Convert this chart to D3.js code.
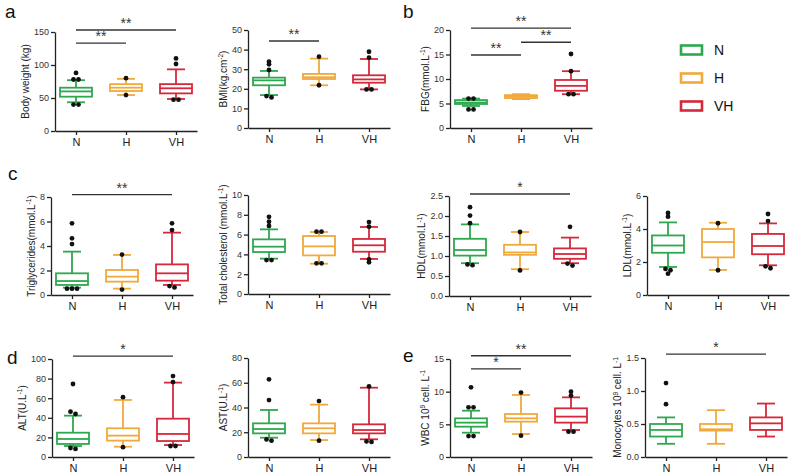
<!DOCTYPE html>
<html>
<head>
<meta charset="utf-8">
<script src="https://cdn.jsdelivr.net/npm/d3@7"></script>
<style>
body { margin: 0; background: #fff; }
svg { font-family: "Liberation Sans", Arial, sans-serif; }
.axis path, .axis line { stroke: #222; stroke-width: 1.3; }
.yAxis text { fill: #333; font-size: 9px; }
.xAxis text { fill: #222; font-size: 11px; }
.ytitle { font-size: 10px; fill: #222; }
.letter { font-size: 19px; fill: #111; }
.sig line { stroke: #333; stroke-width: 1.3; }
.sig text { font-size: 14px; fill: #333; }
</style>
</head>
<body>
<div class="container"></div>
<script>
const WIDTH = 800, HEIGHT = 475;

const groups = ['N', 'H', 'VH'];
const colors = ['#2ea84f', '#f1a93c', '#d5283b'];

// box stats per group: [whisker low, q1, median, q3, whisker high]
const bodyWeight = [[43.5, 52, 60, 65.6, 77], [54.5, 60.6, 65.6, 71, 79], [48.5, 57, 64.7, 71, 93.4]];
const bodyWeightOut = [[88, 78, 78, 40, 40], [80, 54.5], [110, 101.5, 47.5, 47.5]];
const bodyWeightTicks = [0, 50, 100, 150];
const bodyWeightSig = [[0, 2, 153, '**'], [0, 1, 133, '**']];

const bmi = [[16.8, 21.8, 24.3, 25.7, 29.1], [21.8, 25.0, 25.9, 27.6, 35.4], [19.7, 23.1, 24.8, 26.9, 35.2]];
const bmiOut = [[33.8, 32.5, 29.6, 16.3, 15.6], [36.4, 21.8], [38.9, 35.9, 19.7, 19.7]];
const bmiTicks = [0, 10, 20, 30, 40, 50];
const bmiSig = [[0, 1, 44.4, '**']];

const fbg = [[4.5, 4.9, 5.2, 5.7, 6.0], [5.9, 6.1, 6.4, 6.7, 6.9], [6.9, 7.6, 8.6, 9.8, 11.6]];
const fbgOut = [[6.0, 6.0, 3.8, 3.8], [], [15.1, 11.6, 6.9, 6.9]];
const fbgTicks = [0, 5, 10, 15, 20];
const fbgSig = [[0, 2, 20.4, '**'], [1, 2, 17.5, '**'], [0, 1, 14.9, '**']];

const trig = [[0.6, 0.82, 1.14, 1.77, 3.54], [0.52, 1.09, 1.5, 2.04, 3.27], [0.82, 1.17, 1.77, 2.5, 5.09]];
const trigOut = [[5.85, 4.63, 4.16, 0.52, 0.52, 0.52], [3.3, 0.44], [5.85, 5.3, 0.73, 0.62]];
const trigTicks = [0, 2, 4, 6, 8];
const trigSig = [[0, 2, 8.2, '**']];

const tc = [[3.57, 4.24, 4.78, 5.52, 6.53], [3.06, 3.9, 4.81, 5.86, 6.26], [3.54, 4.27, 4.92, 5.56, 6.77]];
const tcOut = [[7.8, 7.3, 6.87, 3.43, 3.43], [6.3, 6.3, 3.1, 3.1], [7.27, 6.8, 3.2, 3.5]];
const tcTicks = [0, 2, 4, 6, 8, 10];
const tcSig = [];

const hdl = [[0.82, 1.01, 1.15, 1.43, 1.79], [0.67, 1.03, 1.09, 1.28, 1.6], [0.82, 0.93, 1.05, 1.19, 1.46]];
const hdlOut = [[2.22, 2.01, 1.82, 0.79, 0.77], [1.6, 0.64], [1.73, 0.76, 0.81]];
const hdlTicks = [0, 0.5, 1.0, 1.5, 2.0, 2.5];
const hdlSig = [[0, 2, 2.55, '*']];

const ldl = [[1.7, 2.56, 3.0, 3.61, 4.4], [1.52, 2.28, 3.21, 4.0, 4.38], [1.8, 2.47, 2.97, 3.7, 4.34]];
const ldlOut = [[4.97, 4.75, 1.58, 1.5, 1.29], [4.35, 1.5], [4.91, 4.48, 1.62, 1.74]];
const ldlTicks = [0, 2, 4, 6];
const ldlSig = [];

const alt = [[11.2, 13.3, 18.4, 24.8, 42.2], [10.5, 16.7, 21.8, 29.3, 58.2], [12.2, 16.3, 23.5, 39.1, 75.9]];
const altOut = [[74.5, 46.3, 43.9, 8.2, 9.2], [61, 10], [82.6, 76.5, 11.2, 11.2]];
const altTicks = [0, 20, 40, 60, 80, 100];
const altSig = [[0, 2, 103, '*']];

const ast = [[15.6, 19.1, 22.6, 27.2, 38], [13.7, 19.1, 23.2, 27.2, 42.3], [14.3, 19.1, 21.8, 26.4, 56]];
const astOut = [[62.8, 46, 13.2, 14.2], [45.2, 13.2], [57, 12.2, 12.6]];
const astTicks = [0, 20, 40, 60, 80];
const astSig = [];

const wbc = [[3.72, 4.64, 5.26, 5.92, 7.09], [3.52, 5.41, 5.92, 6.58, 9.5], [4.13, 5.26, 6.18, 7.45, 9.13]];
const wbcOut = [[10.67, 7.6, 7.6, 3.21, 3.21], [9.86, 3.26], [10.0, 9.4, 3.87, 3.87]];
const wbcTicks = [0, 5, 10, 15];
const wbcSig = [[0, 2, 15.5, '**'], [0, 1, 13.5, '*']];

const mono = [[0.2, 0.31, 0.41, 0.5, 0.6], [0.2, 0.4, 0.42, 0.5, 0.71], [0.31, 0.41, 0.51, 0.6, 0.81]];
const monoOut = [[1.12, 0.8], [], []];
const monoTicks = [0, 0.5, 1.0, 1.5];
const monoSig = [[0, 2, 1.56, '*']];

// titles: [text, isSuperscript]
const panels = [
    { stats: bodyWeight, out: bodyWeightOut, ticks: bodyWeightTicks, sig: bodyWeightSig, fmt: 'd',
      title: [['Body weight (kg)']], x0: 55, top: 32, bottom: 131 },
    { stats: bmi, out: bmiOut, ticks: bmiTicks, sig: bmiSig, fmt: 'd',
      title: [['BMI(kg.cm'], ['-2', 1], [')']], x0: 248, top: 30, bottom: 128 },
    { stats: fbg, out: fbgOut, ticks: fbgTicks, sig: fbgSig, fmt: 'd',
      title: [['FBG(mmol.L'], ['-1', 1], [')']], x0: 450, top: 30, bottom: 128 },
    { stats: trig, out: trigOut, ticks: trigTicks, sig: trigSig, fmt: 'd',
      title: [['Triglycerides(mmol.L'], ['-1', 1], [')']], x0: 51, top: 197, bottom: 295 },
    { stats: tc, out: tcOut, ticks: tcTicks, sig: tcSig, fmt: 'd',
      title: [['Total cholesterol (mmol.L'], ['-1', 1], [')']], x0: 248, top: 195, bottom: 294 },
    { stats: hdl, out: hdlOut, ticks: hdlTicks, sig: hdlSig, fmt: '.1f',
      title: [['HDL(mmol.L'], ['-1', 1], [')']], x0: 449, top: 196, bottom: 296 },
    { stats: ldl, out: ldlOut, ticks: ldlTicks, sig: ldlSig, fmt: 'd',
      title: [['LDL(mmol.L'], ['-1', 1], [')']], x0: 647, top: 196, bottom: 295 },
    { stats: alt, out: altOut, ticks: altTicks, sig: altSig, fmt: 'd',
      title: [['ALT(U.L'], ['-1', 1], [')']], x0: 52, top: 359, bottom: 457 },
    { stats: ast, out: astOut, ticks: astTicks, sig: astSig, fmt: 'd',
      title: [['AST(U.L'], ['-1', 1], [')']], x0: 248, top: 358, bottom: 457 },
    { stats: wbc, out: wbcOut, ticks: wbcTicks, sig: wbcSig, fmt: 'd',
      title: [['WBC 10'], ['9', 1], [' cell. L'], ['-1', 1]], x0: 450, top: 359, bottom: 457 },
    { stats: mono, out: monoOut, ticks: monoTicks, sig: monoSig, fmt: '.1f',
      title: [['Monocytes 10'], ['9', 1], [' cell. L'], ['-1', 1]], x0: 645, top: 358, bottom: 457 }
];

const letters = [['a', 5, 18], ['b', 403, 18], ['c', 8, 180], ['d', 7, 364], ['e', 403, 362]];

const AXIS_W = 142, BOX_W = 32, CAP_W = 18, DOT_R = 2.4, DOT_GAP = 5;
const translate = (x, y) => 'translate(' + x + ',' + y + ')';

var svg = d3.select('.container').append('svg')
    .attr('width', WIDTH)
    .attr('height', HEIGHT);

var drawPanel = (p) => {
    var g = svg.append('g');
    var x = d3.scalePoint().domain(groups).range([p.x0, p.x0 + AXIS_W]).padding(0.42);
    var y = d3.scaleLinear().domain([0, d3.max(p.ticks)]).range([p.bottom, p.top]);

    var yAx = g.append('g')
        .attr('class', 'axis yAxis')
        .attr('transform', translate(p.x0, 0))
        .call(d3.axisLeft(y).tickValues(p.ticks).tickFormat(d3.format(p.fmt)).tickSize(4).tickSizeOuter(0).tickPadding(2));

    g.append('g')
        .attr('class', 'axis xAxis')
        .attr('transform', translate(0, p.bottom))
        .call(d3.axisBottom(x).tickSize(4).tickSizeOuter(0).tickPadding(3));

    // y title placed left of widest tick label
    var maxW = d3.max(yAx.selectAll('.tick text').nodes(), n => n.getBBox().width);
    var tx = p.x0 - 6 - maxW - 5, ty = (p.top + p.bottom) / 2;
    var t = g.append('text')
        .attr('class', 'ytitle')
        .attr('transform', translate(tx, ty) + ' rotate(-90)')
        .attr('text-anchor', 'middle');
    var shifted = false;
    p.title.forEach(part => {
        var s = t.append('tspan').text(part[0]);
        if (part[1]) {
            s.attr('font-size', '6.5px').attr('dy', shifted ? 0 : -3.5);
            shifted = true;
        } else if (shifted) {
            s.attr('dy', 3.5);
            shifted = false;
        }
    });

    // boxes
    p.stats.forEach((s, i) => {
        var cx = x(groups[i]), c = colors[i];
        var bg = g.append('g').attr('stroke', c).attr('stroke-width', 1.8).attr('fill', 'none');
        bg.append('line').attr('x1', cx).attr('x2', cx).attr('y1', y(s[3])).attr('y2', y(s[4]));
        bg.append('line').attr('x1', cx).attr('x2', cx).attr('y1', y(s[1])).attr('y2', y(s[0]));
        [s[0], s[4]].forEach(v => bg.append('line')
            .attr('x1', cx - CAP_W / 2).attr('x2', cx + CAP_W / 2)
            .attr('y1', y(v)).attr('y2', y(v)));
        bg.append('rect')
            .attr('x', cx - BOX_W / 2).attr('width', BOX_W)
            .attr('y', y(s[3])).attr('height', Math.max(0.1, y(s[1]) - y(s[3])))
            .attr('fill', '#fff');
        bg.append('line')
            .attr('x1', cx - BOX_W / 2).attr('x2', cx + BOX_W / 2)
            .attr('y1', y(s[2])).attr('y2', y(s[2]));

        // outliers: spread dots that sit at nearly the same height
        var pts = p.out[i].map(v => y(v)).sort((a, b) => a - b);
        var clusters = [];
        pts.forEach(py => {
            var last = clusters[clusters.length - 1];
            if (last && py - last[last.length - 1] < 2.5) last.push(py);
            else clusters.push([py]);
        });
        clusters.forEach(cl => cl.forEach((py, k) => {
            g.append('circle')
                .attr('cx', cx + (k - (cl.length - 1) / 2) * DOT_GAP)
                .attr('cy', py)
                .attr('r', DOT_R)
                .attr('fill', '#111');
        }));
    });

    // significance bars
    var sg = g.append('g').attr('class', 'sig');
    p.sig.forEach(d => {
        var x1 = x(groups[d[0]]), x2 = x(groups[d[1]]), yy = y(d[2]);
        sg.append('line').attr('x1', x1).attr('x2', x2).attr('y1', yy).attr('y2', yy);
        sg.append('text')
            .attr('x', (x1 + x2) / 2).attr('y', yy - 2)
            .attr('text-anchor', 'middle')
            .text(d[3]);
    });
};

panels.forEach(drawPanel);

letters.forEach(l => svg.append('text')
    .attr('class', 'letter')
    .attr('x', l[1]).attr('y', l[2])
    .text(l[0]));

// legend
var lg = svg.append('g').attr('transform', translate(680, 50));
groups.forEach((gname, i) => {
    lg.append('rect')
        .attr('x', 1).attr('y', i * 28 - 4.5)
        .attr('width', 21).attr('height', 9)
        .attr('fill', 'none')
        .attr('stroke', colors[i])
        .attr('stroke-width', 2.6);
    lg.append('text')
        .attr('x', 34).attr('y', i * 28 + 5)
        .attr('font-size', '14px')
        .attr('fill', '#111')
        .text(gname);
});
</script>
</body>
</html>
